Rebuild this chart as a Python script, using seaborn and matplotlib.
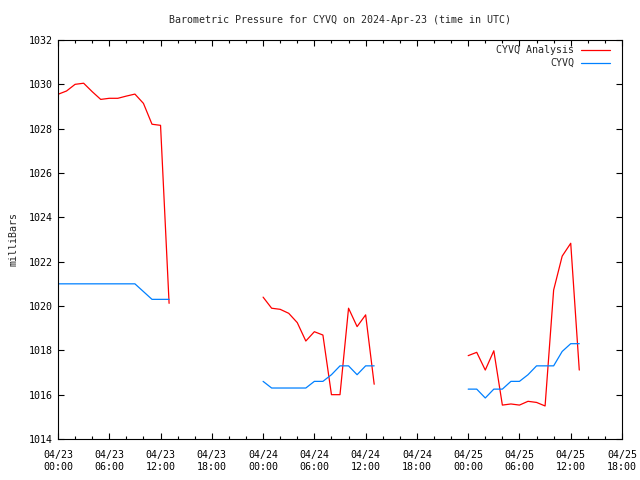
import pandas as pd
import matplotlib
matplotlib.use('Agg')
import matplotlib.pyplot as plt
import matplotlib.dates as mdates
from matplotlib.lines import Line2D
import seaborn as sns

start = pd.Timestamp('2024-04-23 00:00')

# hours since 04/23 00:00 UTC, one list per stretch of data
hours_1 = [0, 1, 2, 3, 4, 5, 6, 7, 8, 9, 10, 11, 12, 13]
analysis_1 = [1029.55, 1029.7, 1030.0, 1030.05, 1029.67, 1029.32, 1029.37,
              1029.37, 1029.47, 1029.56, 1029.14, 1028.2, 1028.15, 1020.12]
cyvq_1 = [1021.0, 1021.0, 1021.0, 1021.0, 1021.0, 1021.0, 1021.0,
          1021.0, 1021.0, 1021.0, 1020.65, 1020.3, 1020.3, 1020.3]

hours_2 = [24, 25, 26, 27, 28, 29, 30, 31, 32, 33, 34, 35, 36, 37]
analysis_2 = [1020.4, 1019.9, 1019.85, 1019.67, 1019.25, 1018.42, 1018.84,
              1018.69, 1016.0, 1016.0, 1019.9, 1019.07, 1019.6, 1016.47]
cyvq_2 = [1016.6, 1016.3, 1016.3, 1016.3, 1016.3, 1016.3, 1016.6,
          1016.6, 1016.9, 1017.3, 1017.3, 1016.9, 1017.3, 1017.3]

hours_3 = [48, 49, 50, 51, 52, 53, 54, 55, 56, 57, 58, 59, 60, 61]
analysis_3 = [1017.76, 1017.91, 1017.11, 1017.98, 1015.53, 1015.58, 1015.53,
              1015.7, 1015.65, 1015.49, 1020.72, 1022.25, 1022.83, 1017.11]
cyvq_3 = [1016.25, 1016.25, 1015.85, 1016.25, 1016.25, 1016.6, 1016.6,
          1016.9, 1017.3, 1017.3, 1017.3, 1017.95, 1018.3, 1018.3]

rows = []
for seg, (hrs, ana, obs) in enumerate([(hours_1, analysis_1, cyvq_1),
                                        (hours_2, analysis_2, cyvq_2),
                                        (hours_3, analysis_3, cyvq_3)]):
    for h, a, o in zip(hrs, ana, obs):
        t = start + pd.Timedelta(hours=h)
        rows.append({'time': t, 'pressure': a, 'series': 'CYVQ Analysis', 'seg': seg})
        rows.append({'time': t, 'pressure': o, 'series': 'CYVQ', 'seg': seg})
df = pd.DataFrame(rows)

sns.set_style('ticks')
plt.rcParams['font.family'] = ['DejaVu Sans Mono']

colors = {'CYVQ Analysis': '#ff0000', 'CYVQ': '#0080ff'}
fs = 7.2

fig = plt.figure(figsize=(6.4, 4.8), dpi=100)
ax = fig.add_axes([58/640, 41/480, 564/640, 399/480])

sns.lineplot(data=df, x='time', y='pressure', hue='series', units='seg',
             estimator=None, palette=colors, legend=False, linewidth=0.9, ax=ax)

ax.set_xlim(start, start + pd.Timedelta(hours=66))
ax.set_ylim(1014, 1032)
ax.set_yticks(range(1014, 1033, 2))
ax.xaxis.set_major_locator(mdates.HourLocator(byhour=[0, 6, 12, 18]))
ax.xaxis.set_minor_locator(mdates.HourLocator(interval=2))
ax.xaxis.set_major_formatter(mdates.DateFormatter('%m/%d\n%H:%M'))

ax.tick_params(which='both', direction='in', top=True, right=True,
               labelsize=fs, colors='black', width=0.8)
ax.tick_params(which='major', length=4)
ax.tick_params(which='minor', length=2)
ax.tick_params(axis='x', which='major', pad=8)
ax.tick_params(axis='y', which='major', pad=4)
for s in ax.spines.values():
    s.set_linewidth(0.8)
    s.set_color('black')

ax.set_xlabel('')
ax.set_ylabel('milliBars', fontsize=fs, labelpad=7)
ax.set_title('Barometric Pressure for CYVQ on 2024-Apr-23 (time in UTC)',
             fontsize=fs, pad=12)

handles = [Line2D([], [], color=colors[k], lw=0.9) for k in colors]
ax.legend(handles, list(colors), loc='upper right', bbox_to_anchor=(0.9858, 0.997),
          frameon=False, markerfirst=False, fontsize=fs, handlelength=2.9,
          handletextpad=0.7, labelspacing=0.3, borderaxespad=0)

fig.savefig('out.png', dpi=100)
